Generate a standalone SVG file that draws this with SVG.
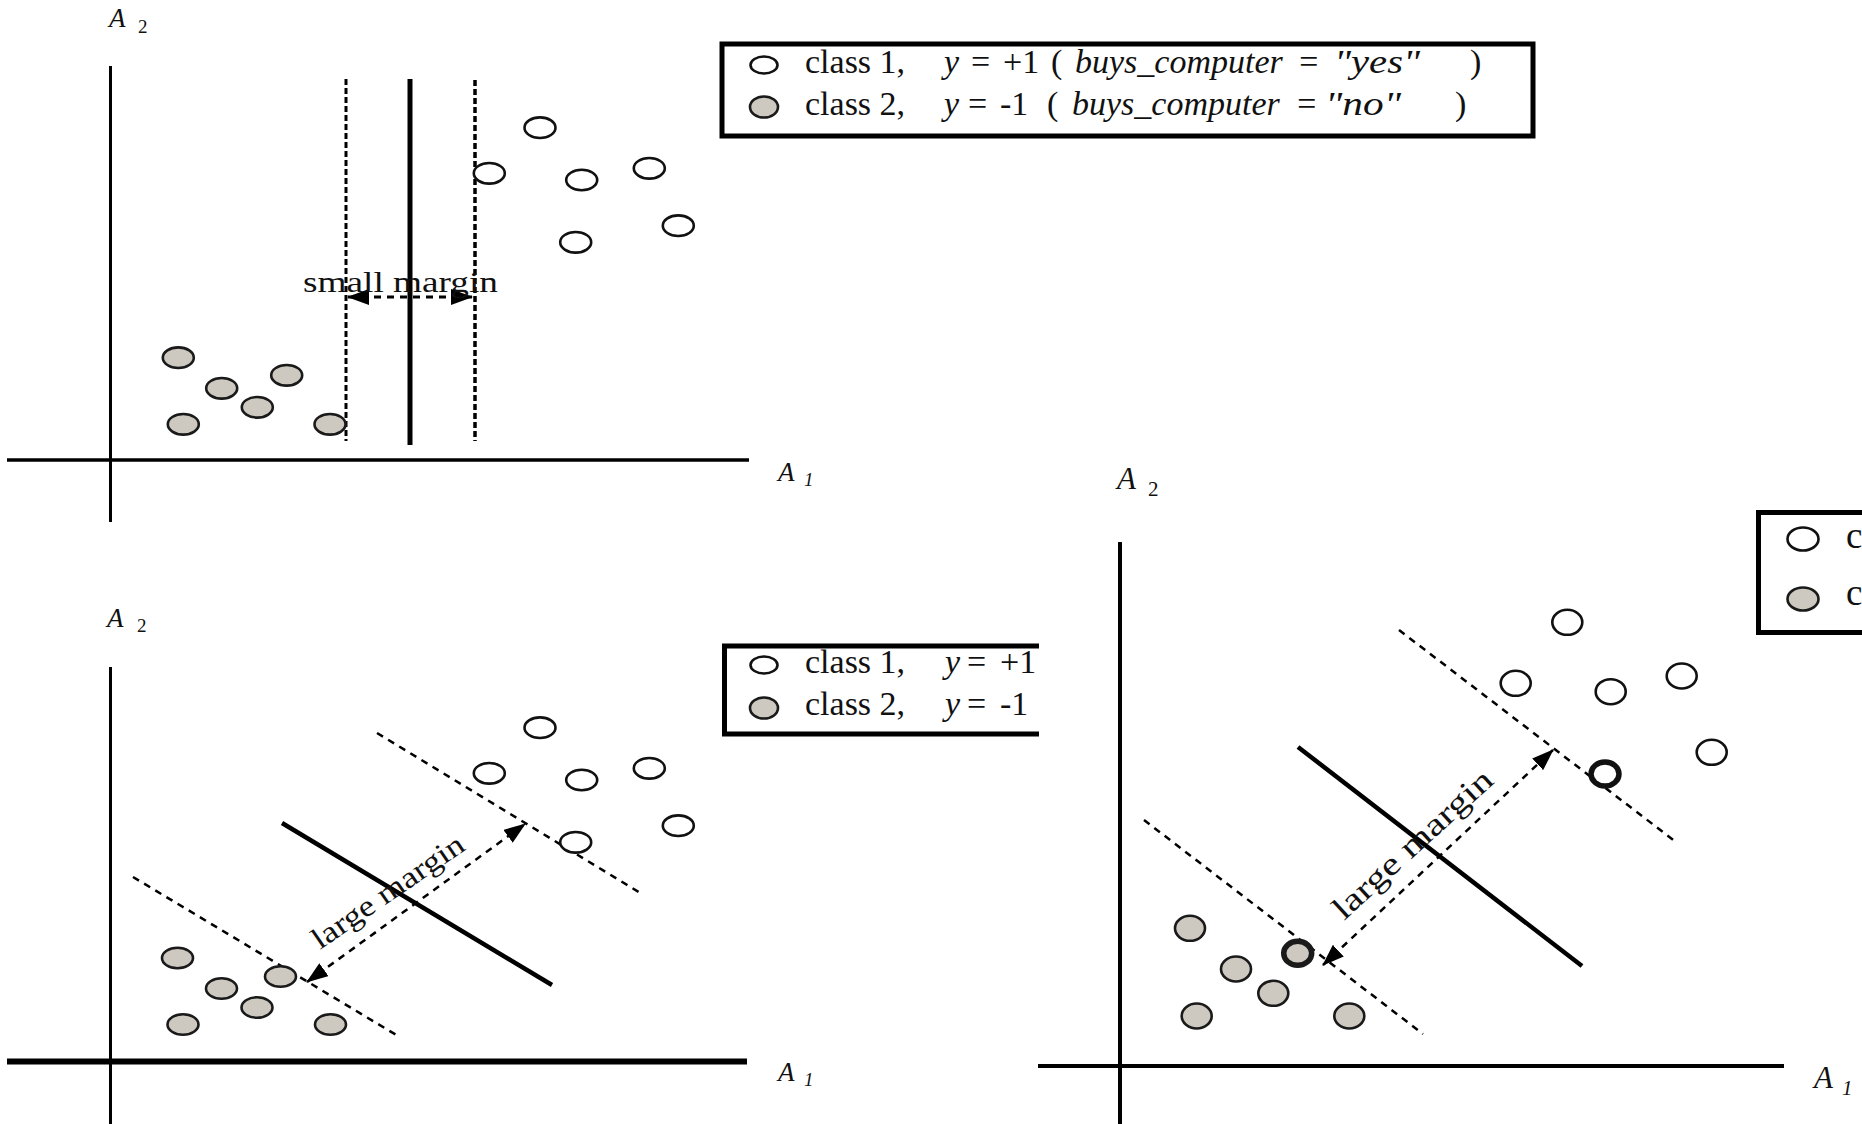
<svg xmlns="http://www.w3.org/2000/svg" width="1862" height="1124" viewBox="0 0 1862 1124">
<style>
  .ln{stroke:#000;fill:none}
  .d1{stroke-dasharray:6 3}
  .d2{stroke-dasharray:7 6}
  .w{fill:#fff;stroke:#111;stroke-width:2.6}
  .g{fill:#cdc9c1;stroke:#1a1a1a;stroke-width:2.6}
  .thick{stroke-width:5.5}
  .t{font-family:"Liberation Serif","Times New Roman",serif;fill:#111}
  .i{font-style:italic}
  .leg{font-size:34px}
  .box{fill:none;stroke:#000;stroke-width:5}
</style>
<defs>
  <marker id="ah" viewBox="0 0 22 16" refX="21" refY="8" markerWidth="22" markerHeight="16" markerUnits="userSpaceOnUse" orient="auto-start-reverse">
    <path d="M0,0 L22,8 L0,16 z" fill="#000"/>
  </marker>
</defs>
<rect width="1862" height="1124" fill="#fff"/>

<g id="connectors">
  <!-- top-left panel -->
  <line class="ln" x1="110.5" y1="66" x2="110.5" y2="522" stroke-width="3"/>
  <line class="ln" x1="7" y1="460" x2="749" y2="460" stroke-width="3.5"/>
  <line class="ln" x1="410" y1="79" x2="410" y2="445" stroke-width="5"/>
  <line class="ln d1" x1="346" y1="79" x2="346" y2="441" stroke-width="3"/>
  <line class="ln d1" x1="475" y1="80" x2="475" y2="441" stroke-width="3.5"/>
  <line class="ln d2" x1="348" y1="297" x2="472" y2="297" stroke-width="3" marker-start="url(#ah)" marker-end="url(#ah)"/>
  <!-- bottom-left panel -->
  <line class="ln" x1="110.5" y1="667" x2="110.5" y2="1124" stroke-width="3"/>
  <line class="ln" x1="7" y1="1061.5" x2="747" y2="1061.5" stroke-width="6"/>
  <line class="ln" x1="282" y1="823" x2="552" y2="985" stroke-width="4.5"/>
  <line class="ln d2" x1="377" y1="733" x2="642" y2="894" stroke-width="2.5"/>
  <line class="ln d2" x1="133" y1="877" x2="398" y2="1036" stroke-width="2.5"/>
  <line class="ln d2" x1="307" y1="982" x2="525" y2="824" stroke-width="2.5" marker-start="url(#ah)" marker-end="url(#ah)"/>
  <!-- right panel -->
  <line class="ln" x1="1120" y1="542" x2="1120" y2="1124" stroke-width="4"/>
  <line class="ln" x1="1038" y1="1066" x2="1784" y2="1066" stroke-width="4"/>
  <line class="ln" x1="1298" y1="747" x2="1582" y2="966" stroke-width="4.5"/>
  <line class="ln d2" x1="1399" y1="630" x2="1676" y2="842" stroke-width="2.5"/>
  <line class="ln d2" x1="1144" y1="820" x2="1423" y2="1034" stroke-width="2.5"/>
  <line class="ln d2" x1="1323" y1="965" x2="1553" y2="750" stroke-width="2.5" marker-start="url(#ah)" marker-end="url(#ah)"/>
</g>

<!-- axis labels and margin labels -->
<g id="labels" class="t">
  <text x="109" y="27" font-size="27" class="i">A</text><text x="138" y="33" font-size="19">2</text>
  <text x="778" y="481" font-size="27" class="i">A</text><text x="804" y="486" font-size="19" class="i">1</text>
  <text x="107" y="627" font-size="27" class="i">A</text><text x="137" y="632" font-size="19">2</text>
  <text x="778" y="1081" font-size="27" class="i">A</text><text x="804" y="1086" font-size="19" class="i">1</text>
  <text x="1117" y="489" font-size="31" class="i">A</text><text x="1148" y="496" font-size="21">2</text>
  <text x="1814" y="1088" font-size="31" class="i">A</text><text x="1842" y="1095" font-size="21" class="i">1</text>
  <text x="303" y="292" font-size="30" textLength="195" lengthAdjust="spacingAndGlyphs">small margin</text>
  <text transform="translate(320,950) rotate(-34.5)" font-size="30" textLength="178" lengthAdjust="spacingAndGlyphs">large margin</text>
  <text transform="translate(1344,921) rotate(-42.5)" font-size="32" textLength="205" lengthAdjust="spacingAndGlyphs">large margin</text>
</g>

<!-- legends -->
<g id="legend-top" class="t leg">
  <rect class="box" x="722" y="44" width="811" height="92"/>
  <ellipse class="w" cx="764" cy="65" rx="13.5" ry="8.5"/>
  <ellipse class="g" cx="764" cy="107" rx="14" ry="10.5"/>
  <text x="805" y="73">class 1,</text>
  <text x="944" y="73" class="i">y</text><text x="971" y="73">=</text><text x="1003" y="73">+1</text><text x="1051" y="73">(</text>
  <text x="1075" y="73" class="i">buys_computer</text><text x="1297" y="73" class="i">=</text><text x="1334" y="73" class="i" textLength="86" lengthAdjust="spacingAndGlyphs">"yes"</text><text x="1470" y="73">)</text>
  <text x="805" y="115">class 2,</text>
  <text x="944" y="115" class="i">y</text><text x="968" y="115">=</text><text x="1000" y="115">-1</text><text x="1047" y="115">(</text>
  <text x="1072" y="115" class="i">buys_computer</text><text x="1295" y="115" class="i">=</text><text x="1325" y="115" class="i" textLength="76" lengthAdjust="spacingAndGlyphs">"no"</text><text x="1455" y="115">)</text>
</g>
<g id="legend-bottom-left" class="t leg">
  <path class="box" d="M1039,646 H724.5 V734 H1039"/>
  <ellipse class="w" cx="764" cy="665" rx="13.5" ry="8.5"/>
  <ellipse class="g" cx="764" cy="708" rx="14" ry="10.5"/>
  <text x="805" y="673">class 1,</text>
  <text x="945" y="673" class="i">y</text><text x="967" y="673">=</text><text x="1000" y="673">+1</text>
  <text x="805" y="715">class 2,</text>
  <text x="945" y="715" class="i">y</text><text x="967" y="715">=</text><text x="1000" y="715">-1</text>
</g>
<g id="legend-right" class="t">
  <path class="box" d="M1866,512.5 H1758.5 V632.5 H1866"/>
  <ellipse class="w" cx="1803" cy="539" rx="15.5" ry="11.5"/>
  <ellipse class="g" cx="1803" cy="599" rx="15.5" ry="11.5"/>
  <text x="1846" y="548" font-size="37">c</text>
  <text x="1846" y="605" font-size="37">c</text>
</g>

<!-- top-left points -->
<g id="tl-w1"><ellipse class="w" cx="540" cy="127.7" rx="15.5" ry="10.3"/></g>
<g id="tl-w2"><ellipse class="w" cx="489.3" cy="173.3" rx="15.5" ry="10.3"/></g>
<g id="tl-w3"><ellipse class="w" cx="581.7" cy="180" rx="15.5" ry="10.3"/></g>
<g id="tl-w4"><ellipse class="w" cx="649.3" cy="168.3" rx="15.5" ry="10.3"/></g>
<g id="tl-w5"><ellipse class="w" cx="678.3" cy="225.7" rx="15.5" ry="10.3"/></g>
<g id="tl-w6"><ellipse class="w" cx="575.7" cy="242.3" rx="15.5" ry="10.3"/></g>
<g id="tl-g1"><ellipse class="g" cx="178.3" cy="357.7" rx="15.5" ry="10.3"/></g>
<g id="tl-g2"><ellipse class="g" cx="221.7" cy="388.3" rx="15.5" ry="10.3"/></g>
<g id="tl-g3"><ellipse class="g" cx="286.7" cy="375.3" rx="15.5" ry="10.3"/></g>
<g id="tl-g4"><ellipse class="g" cx="257.3" cy="407.3" rx="15.5" ry="10.3"/></g>
<g id="tl-g5"><ellipse class="g" cx="183.3" cy="424.3" rx="15.5" ry="10.3"/></g>
<g id="tl-g6"><ellipse class="g" cx="330" cy="424.3" rx="15.5" ry="10.3"/></g>

<!-- bottom-left points -->
<g id="bl-w1"><ellipse class="w" cx="540" cy="727.7" rx="15.5" ry="10.3"/></g>
<g id="bl-w2"><ellipse class="w" cx="489.3" cy="773.3" rx="15.5" ry="10.3"/></g>
<g id="bl-w3"><ellipse class="w" cx="581.7" cy="780" rx="15.5" ry="10.3"/></g>
<g id="bl-w4"><ellipse class="w" cx="649.3" cy="768.3" rx="15.5" ry="10.3"/></g>
<g id="bl-w5"><ellipse class="w" cx="678.3" cy="825.7" rx="15.5" ry="10.3"/></g>
<g id="bl-w6"><ellipse class="w" cx="575.7" cy="842.3" rx="15.5" ry="10.3"/></g>
<g id="bl-g1"><ellipse class="g" cx="177.5" cy="958" rx="15.5" ry="10.3"/></g>
<g id="bl-g2"><ellipse class="g" cx="221.5" cy="988.5" rx="15.5" ry="10.3"/></g>
<g id="bl-g3"><ellipse class="g" cx="280.5" cy="976.5" rx="15.5" ry="10.3"/></g>
<g id="bl-g4"><ellipse class="g" cx="257" cy="1007.5" rx="15.5" ry="10.3"/></g>
<g id="bl-g5"><ellipse class="g" cx="183" cy="1024.5" rx="15.5" ry="10.3"/></g>
<g id="bl-g6"><ellipse class="g" cx="330.5" cy="1024.5" rx="15.5" ry="10.3"/></g>

<!-- right panel points -->
<g id="r-w1"><ellipse class="w" cx="1567.3" cy="622.3" rx="15" ry="12.5"/></g>
<g id="r-w2"><ellipse class="w" cx="1515.7" cy="683.3" rx="15" ry="12.5"/></g>
<g id="r-w3"><ellipse class="w" cx="1610.7" cy="691.7" rx="15" ry="12.5"/></g>
<g id="r-w4"><ellipse class="w" cx="1681.7" cy="676" rx="15" ry="12.5"/></g>
<g id="r-w5"><ellipse class="w" cx="1711.7" cy="752.3" rx="15" ry="12.5"/></g>
<g id="r-w6"><ellipse class="w thick" cx="1605" cy="774" rx="14" ry="12"/></g>
<g id="r-g1"><ellipse class="g" cx="1190" cy="928.3" rx="15" ry="12.5"/></g>
<g id="r-g2"><ellipse class="g" cx="1236" cy="969" rx="15" ry="12.5"/></g>
<g id="r-g3"><ellipse class="g thick" cx="1297.7" cy="953.3" rx="14" ry="12"/></g>
<g id="r-g4"><ellipse class="g" cx="1273.3" cy="993.3" rx="15" ry="12.5"/></g>
<g id="r-g5"><ellipse class="g" cx="1196.7" cy="1016" rx="15" ry="12.5"/></g>
<g id="r-g6"><ellipse class="g" cx="1349.3" cy="1016" rx="15" ry="12.5"/></g>
</svg>
